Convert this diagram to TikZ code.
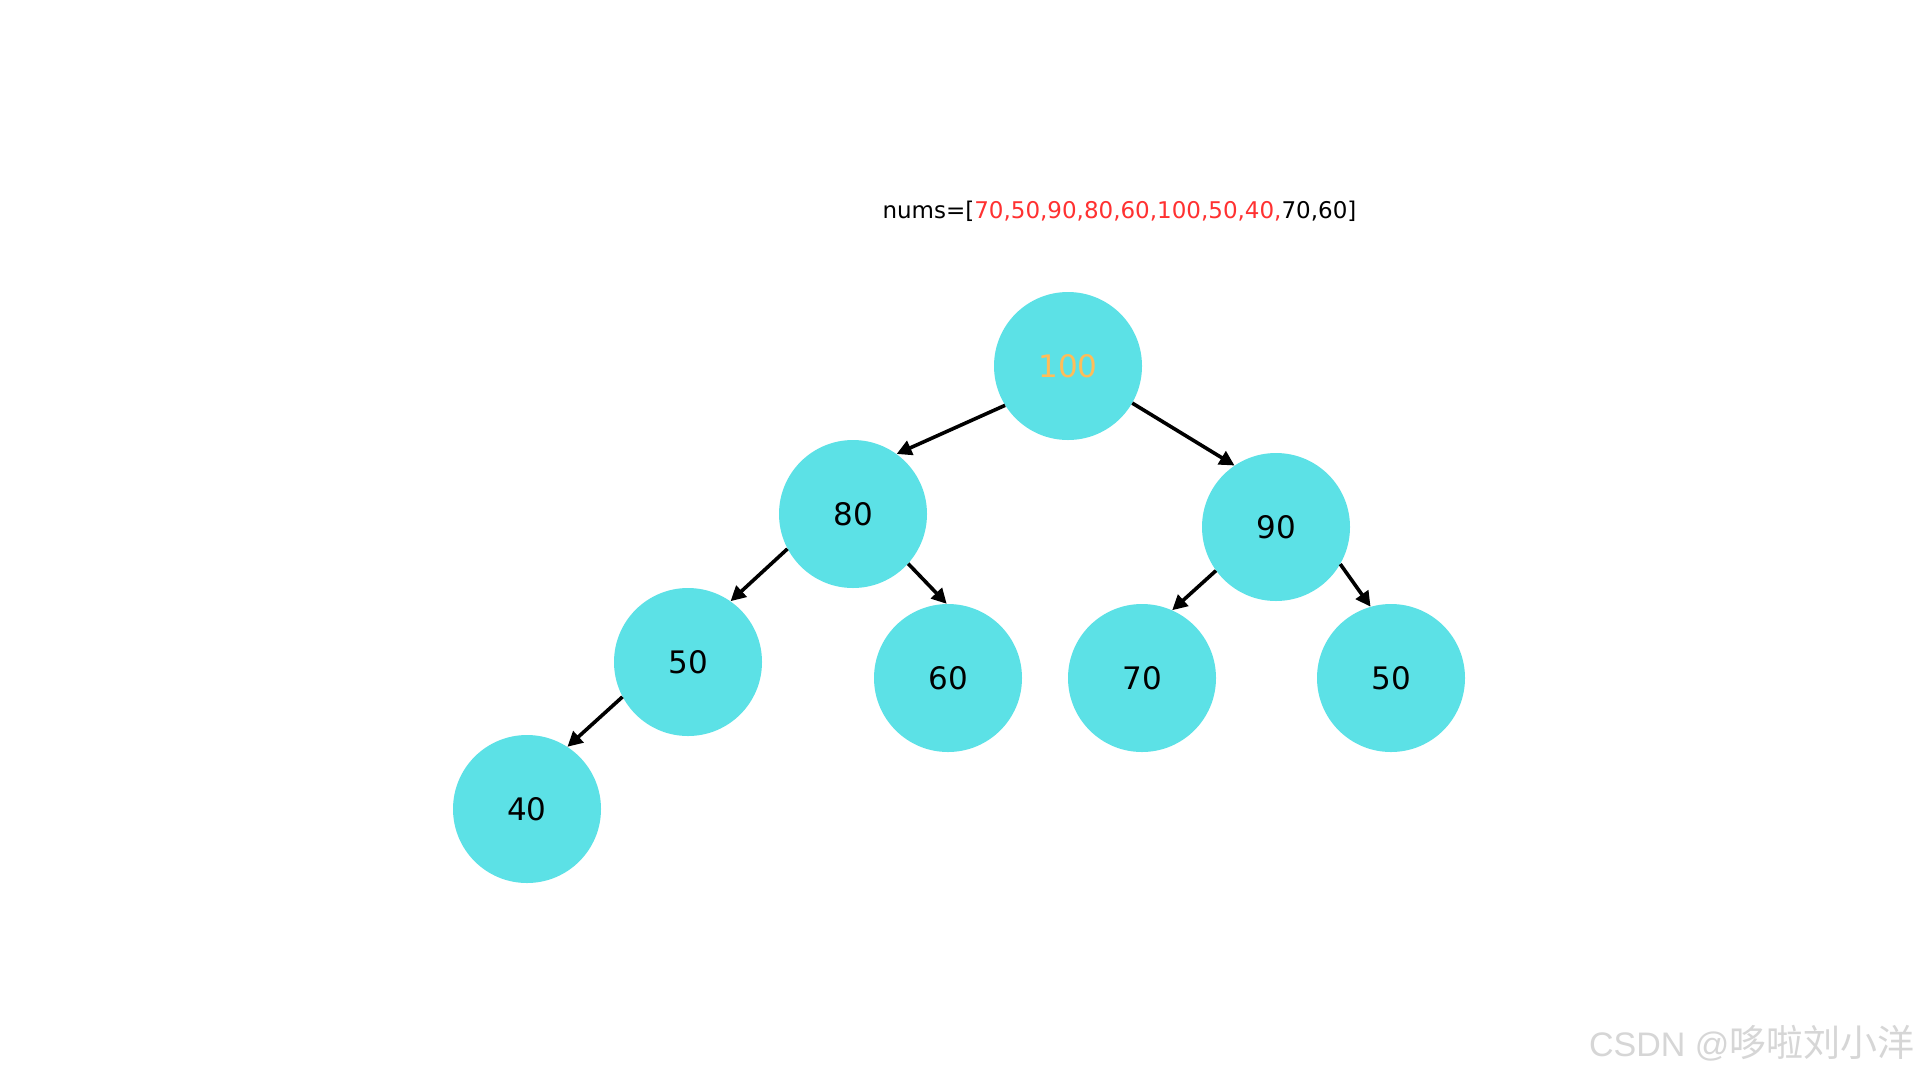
\documentclass[tikz,border=0pt]{standalone}
\usepackage{fontspec}
\setmainfont{DejaVu Sans}
\newfontfamily\wmfont{Liberation Sans}
\newfontfamily\cjk{Noto Sans CJK SC}
\usetikzlibrary{arrows.meta}
\definecolor{turq}{HTML}{5CE1E6}
\definecolor{numred}{HTML}{FF3131}
\definecolor{gold}{HTML}{FFBD59}
\definecolor{wmgray}{HTML}{D6D6D6}

\begin{document}
\begin{tikzpicture}[x=1pt,y=-1pt,
  ball/.style={circle,fill=turq,minimum size=148pt,inner sep=0pt,font=\fontsize{31}{36}\selectfont},
  link/.style={line width=3.6pt,-{Triangle[length=15pt,width=15pt]}}]
\fill[white] (0,0) rectangle (1920,1080);
\node[anchor=base west,font=\fontsize{23}{28}\selectfont] (nums) at (879,218)
  {nums=[\textcolor{numred}{70,50,90,80,60,100,50,40,}70,60]};
% the heap
\node[ball,text=gold] (top) at (1068,366) {100};
\node[ball] (l) at (853,514) {80};
\node[ball] (r) at (1276,527) {90};
\node[ball] (ll) at (688,662) {50};
\node[ball] (lr) at (948,678) {60};
\node[ball] (rl) at (1142,678) {70};
\node[ball] (rr) at (1391,678) {50};
\node[ball] (lll) at (527,809) {40};
\draw[link] (top.212)--(l.54);\draw[link] (top.330)--(r.124);
\draw[link] (l.208)--(ll.55);\draw[link] (l.318)--(lr.91);
\draw[link] (r.216)--(rl.66);\draw[link] (r.330)--(rr.106);
\draw[link] (ll.208)--(lll.57);
\node[anchor=base east,text=wmgray] (wm) at (1918,1056)
  {\wmfont\fontsize{34}{38}\selectfont CSDN @\cjk\fontsize{37}{40}\selectfont 哆啦刘小洋};
\end{tikzpicture}
\end{document}
